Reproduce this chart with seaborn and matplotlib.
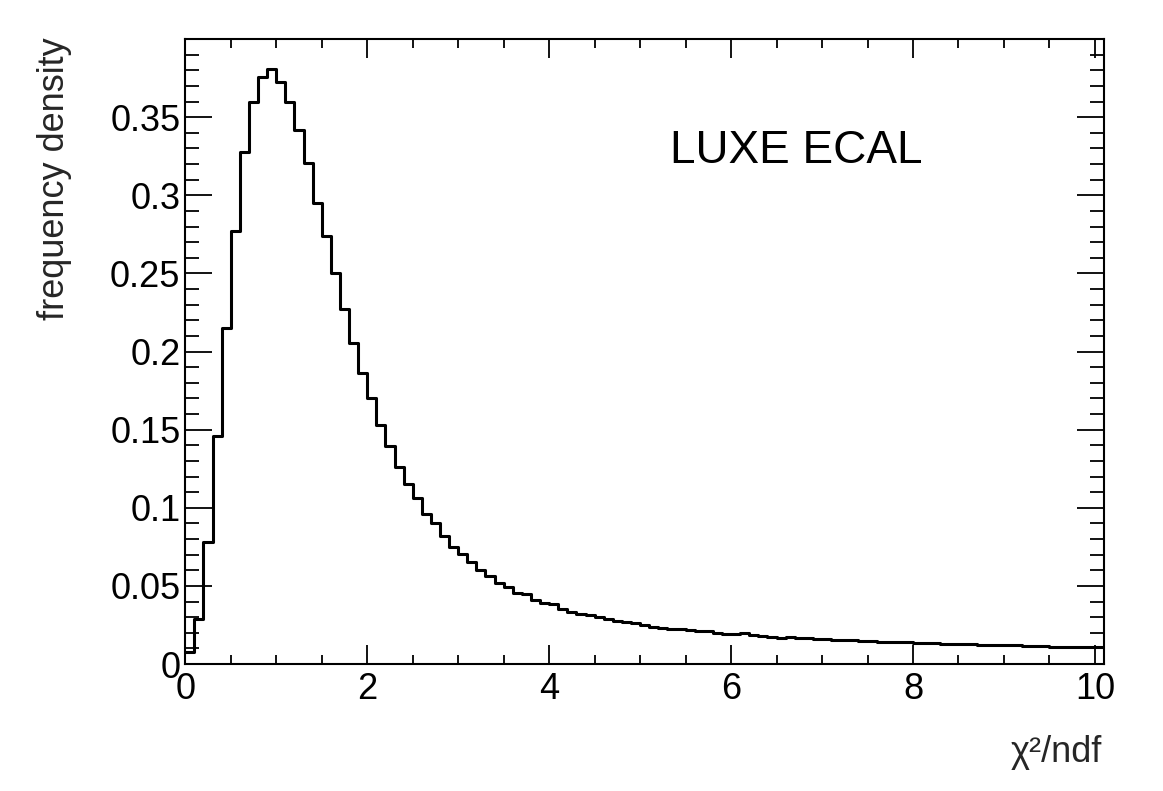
import numpy as np
import pandas as pd
import matplotlib
matplotlib.use("Agg")
import matplotlib.pyplot as plt
from matplotlib.ticker import MultipleLocator, FuncFormatter
import seaborn as sns

# ---- data ----
bin_start = 0.0
bin_width = 0.1
frequency_density = [
    0.008, 0.029, 0.078, 0.146, 0.215, 0.277, 0.328, 0.360, 0.3755, 0.381,
    0.3725, 0.360, 0.342, 0.3205, 0.295, 0.274, 0.250, 0.227, 0.2055, 0.1865,
    0.170, 0.153, 0.1395, 0.126, 0.115, 0.106, 0.096, 0.090, 0.0817, 0.0752,
    0.0703, 0.0654, 0.060, 0.0564, 0.052, 0.049, 0.0457, 0.0447, 0.041, 0.0393,
    0.0382, 0.0355, 0.0335, 0.0318, 0.0312, 0.0300, 0.0286, 0.0275, 0.0267, 0.0260,
    0.0250, 0.0239, 0.0232, 0.0224, 0.0222, 0.0216, 0.0209, 0.0209, 0.0198, 0.0194,
    0.0194, 0.0196, 0.0186, 0.0179, 0.0173, 0.0168, 0.0173, 0.0168, 0.0164, 0.0162,
    0.0158, 0.0155, 0.0154, 0.0153, 0.0150, 0.0149, 0.0142, 0.0140, 0.0139, 0.0138,
    0.0134, 0.0133, 0.0133, 0.0131, 0.0127, 0.0126, 0.0126, 0.0124, 0.0122, 0.0122,
    0.0121, 0.0120, 0.0116, 0.0115, 0.0114, 0.0112, 0.0111, 0.0111, 0.0110, 0.0110,
    0.0109,
]
x_label = "χ²/ndf"
y_label = "frequency density"
title_text = "LUXE ECAL"

n_bins = len(frequency_density)
edges = bin_start + bin_width * np.arange(n_bins + 1)
centers = edges[:-1] + bin_width / 2
df = pd.DataFrame({"chi2ndf": centers, "density": frequency_density})

sns.set_theme(style="ticks")
plt.rcParams["font.family"] = ["Liberation Sans", "DejaVu Sans"]

W, H = 1163, 791
fig = plt.figure(figsize=(W / 100, H / 100), dpi=100)
ax = fig.add_axes([185.3 / W, 1 - 664 / H, (1104 - 185.3) / W, (664 - 39) / H])

sns.histplot(data=df, x="chi2ndf", weights="density", bins=edges.tolist(),
             element="step", fill=False, color="black", linewidth=2.2, ax=ax)

ax.set_xlim(0, 10.1)
ax.set_ylim(0, 0.4)
ax.set_xlabel("")
ax.set_ylabel("")

ax.xaxis.set_major_locator(MultipleLocator(2))
ax.xaxis.set_minor_locator(MultipleLocator(0.5))
ax.yaxis.set_major_locator(MultipleLocator(0.05))
ax.yaxis.set_minor_locator(MultipleLocator(0.01))
ax.xaxis.set_major_formatter(FuncFormatter(lambda v, p: f"{v:g}"))
ax.yaxis.set_major_formatter(FuncFormatter(lambda v, p: "" if v > 0.375 else f"{v:g}"))

for s in ax.spines.values():
    s.set_visible(True)
    s.set_linewidth(1.5)
    s.set_color("black")

ax.tick_params(which="both", direction="in", top=True, right=True,
               width=1.3, color="black", labelsize=26, labelcolor="black")
ax.tick_params(axis="y", which="major", length=19.5, pad=3.5)
ax.tick_params(axis="y", which="minor", length=10)
ax.tick_params(axis="x", which="major", length=13.5, pad=5.5)
ax.tick_params(axis="x", which="minor", length=6.5)

ax.text((670 - 185.3) / (1104 - 185.3), (664 - 163) / (664 - 39), title_text,
        transform=ax.transAxes, fontsize=33, ha="left", va="baseline", color="black")

fig.text(1102 / W, 1 - 762 / H, x_label, fontsize=26, ha="right", va="baseline")
fig.text(55 / W, 1 - 37 / H, y_label, fontsize=26, rotation=90, ha="center", va="top")

fig.savefig("out.png", dpi=100, facecolor="white")
